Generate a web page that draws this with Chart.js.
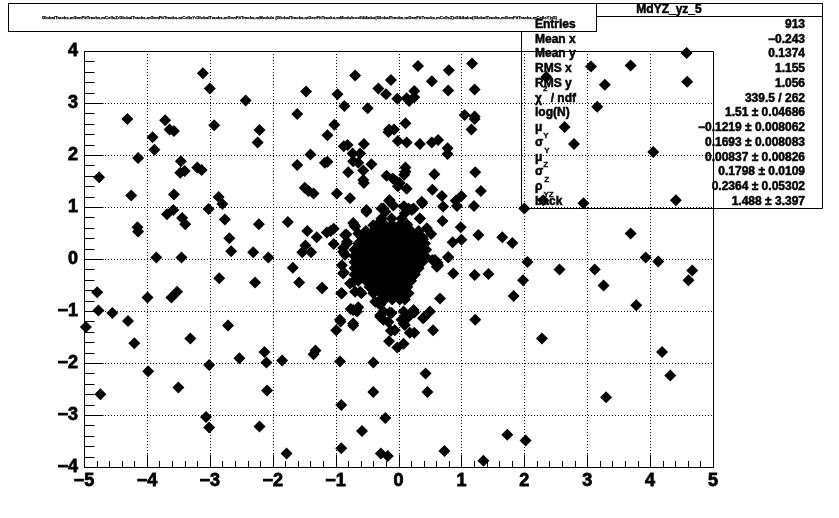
<!DOCTYPE html>
<html>
<head>
<meta charset="utf-8">
<script src="https://cdn.jsdelivr.net/npm/chart.js@4.4.0/dist/chart.umd.min.js"></script>
<style>
html, body { margin: 0; padding: 0; background: #fff; }
</style>
</head>
<body>
<canvas id="c" width="839" height="518"></canvas>
<script>
// scattered hits (x = mCellsY, y = mCellsZ)
const haloY = [
    -4.76, -4.31, -4.25, -4.14, -4.15, -4.14, -3.91, -3.88, -3.85, -3.71, -3.64, -3.57, -3.46, -3.47, -3.40, -3.57,
    -3.68, -3.58, -3.44, -3.39, -3.45, -3.20, -3.13, -3.11, -3.00, -3.02, -2.93, -2.86, -2.80, -2.76, -2.69, -2.66,
    -2.43, -2.31, -2.24, -2.21, -2.22, -2.07, -1.76, -1.61, -1.61, -1.47, -1.49, -1.43, -1.35, -1.40, -1.45, -1.30,
    -1.48, -1.53, -1.39, -1.68, -1.13, -1.17, -1.13, -1.14, -1.08, -1.03, -1.02, -0.97, -0.98, -1.03, -0.86, -0.69,
    -0.87, -0.81, -0.73, -0.61, -0.72, -0.64, -0.80, -0.55, -0.56, -0.56, -0.55, -0.43, -0.49, -0.77, -0.51, -0.70,
    -0.64, -0.83, -0.82, -0.88, -0.32, -0.20, -0.12, -0.02, 0.13, 0.17, 0.25, 0.25, 0.31, 0.53, 0.80, 0.79,
    1.17, 1.21, 1.05, 1.21, 1.21, 1.16, 0.11, -0.16, -0.15, -0.07, -0.01, 0.13, 0.34, 0.53, 0.63, 0.78,
    0.78, 0.11, 0.11, 0.09, -0.19, -0.09, -0.03, -0.01, 0.02, 0.13, 0.57, 1.22, 0.54, 0.69, 1.31, 1.00,
    0.91, 0.93, 0.71, 1.20, 0.38, -0.15, -0.08, 0.09, 0.24, 0.10, -0.27, -0.21, -0.27, 0.34, 0.70, 0.52,
    0.99, 0.86, 1.00, 1.27, 1.65, 1.81, 0.39, 0.79, 0.62, 0.54,
    -4.79, -4.77, -4.55, -4.97, -4.30, -4.20, -3.99, -3.98, -4.74, -3.61, -3.52, -3.50, -3.31, -2.85, -2.71, -3.01,
    -3.06, -3.01, -2.53, -2.28, -2.13, -2.10, -2.09, -2.21, -1.85, -1.78, -1.58, -1.21, -1.35, -1.32, -0.99, -0.92,
    -0.93, -0.91, -0.91, -0.91, -0.76, -0.64, -0.72, -0.59, -0.69, -0.77, -0.87, -0.40, -0.40, -0.58, -0.21, -0.28,
    -0.17, -0.32, -0.29, -0.24, -0.14, -0.15, -0.12, -0.06, -0.02, 0.08, 0.08, 0.18, 0.25, 0.25, 0.41, 0.55,
    0.66, 0.43, 0.46, 0.73, 1.35, 1.73, 1.22, 0.87, 1.21, 1.43, 1.83, 0.61,
    2.00, 2.94, 4.41, 3.69, 2.05, 2.56, 3.12, 3.93, 4.13, 1.98, 3.26, 3.78, 4.67, 4.61, 2.28, 4.19,
    4.32, 3.30, 2.02, 4.58, 3.06, 3.69, 2.35, 3.28, 4.59, 3.16, 2.64, 2.79, 4.05, 2.30
];
const haloZ = [
    1.57, 2.69, 1.22, 1.94, 0.61, 0.53, 2.34, 2.10, 0.03, 2.67, 2.49, 2.46, 1.88, 1.66, 1.69, 1.24,
    0.86, 0.94, 0.79, 0.67, 0.03, 1.76, 1.71, 3.57, 3.28, 0.96, 2.57, 1.19, 1.06, 0.76, 0.40, 0.15,
    3.05, 0.13, 2.24, 2.48, 0.67, 0.03, 0.71, 2.79, 1.81, 3.22, 1.37, 1.31, 1.26, 2.01, 0.54, 0.42,
    0.26, 0.13, 0.13, -0.17, 2.38, 1.85, 1.87, 0.51, 0.54, 0.58, 2.58, 3.17, 1.26, 0.29, 2.94, 3.53,
    2.17, 2.19, 2.03, 2.03, 1.88, 1.85, 1.67, 2.21, 1.70, 1.52, 1.46, 1.82, 2.90, 1.17, 0.91, 0.65,
    0.49, 0.47, 0.30, 0.14, 3.28, 3.17, 3.44, 3.08, 3.09, 3.04, 3.11, 3.23, 3.71, 3.42, 3.63, 3.24,
    3.76, 3.26, 2.77, 2.74, 2.69, 2.49, 2.61, 2.44, 2.49, 2.49, 2.27, 2.24, 2.21, 2.24, 2.29, 2.13,
    2.02, 1.76, 1.68, 1.62, 1.60, 1.55, 1.49, 1.40, 1.46, 1.35, 1.63, 1.67, 1.33, 1.21, 1.31, 1.21,
    1.12, 1.02, 1.01, 1.02, 1.07, 1.12, 1.03, 1.01, 0.97, 0.88, 0.97, 0.91, 0.78, 0.78, 0.73, 0.48,
    0.61, 0.32, 0.37, 0.46, 0.42, 0.31, 0.38, 0.03, -0.07, -0.02,
    -0.64, -0.99, -1.04, -1.31, -1.19, -1.62, -0.74, -2.16, -2.60, -0.74, -0.63, -2.47, -1.53, -0.37, -1.28, -2.04,
    -3.04, -3.24, -1.91, -0.45, -1.79, -1.99, -2.53, -3.22, -1.95, -3.74, -0.45, -0.56, -1.83, -1.76, -1.37, -1.20,
    -1.97, -2.81, -3.64, -0.66, -0.96, -0.93, -1.28, -0.66, -0.63, -0.47, -0.26, -1.99, -2.56, -3.31, -3.06, -3.74,
    -3.79, -0.85, -1.11, -1.17, -1.03, -1.58, -1.38, -1.37, -1.70, -1.63, -1.24, -1.42, -1.42, -1.03, -1.12, -1.37,
    -0.76, -2.20, -2.56, -3.69, -3.88, -3.38, -1.17, -0.28, -0.31, -0.29, -0.71, -0.15,
    0.97, 1.07, 1.13, 0.49, -0.06, -0.20, -0.20, 0.03, -0.05, -0.41, -0.51, -0.89, -0.22, -0.41, -1.53, -1.79,
    -2.24, -2.66, -3.49, 3.96, 3.70, 3.72, 3.50, 3.35, 3.41, 2.93, 2.54, 2.21, 2.06, 1.13
];

// dense core around the origin, read row by row off the solid blob
const coreY = [
    -0.34, -0.22, -0.10, 0.02, 0.14,
    -0.52, -0.40, -0.28, -0.16, -0.04, 0.08, 0.20, 0.32,
    -0.58, -0.46, -0.34, -0.22, -0.10, 0.02, 0.14, 0.26, 0.38,
    -0.64, -0.52, -0.40, -0.28, -0.16, -0.04, 0.08, 0.20, 0.32, 0.42,
    -0.70, -0.58, -0.46, -0.34, -0.22, -0.10, 0.02, 0.14, 0.26, 0.38, 0.44,
    -0.70, -0.64, -0.52, -0.40, -0.28, -0.16, -0.04, 0.08, 0.20, 0.32, 0.42,
    -0.70, -0.58, -0.46, -0.34, -0.22, -0.10, 0.02, 0.14, 0.26, 0.38,
    -0.70, -0.64, -0.52, -0.40, -0.28, -0.16, -0.04, 0.08, 0.20, 0.32,
    -0.70, -0.58, -0.46, -0.34, -0.22, -0.10, 0.02, 0.14, 0.26,
    -0.64, -0.52, -0.40, -0.28, -0.16, -0.04, 0.08, 0.20,
    -0.46, -0.34, -0.22, -0.10, 0.02, 0.14,
    -0.40, -0.28, -0.16, -0.04, 0.08, 0.16,
    -0.22, -0.10, 0.02, 0.10,
    -0.85, -0.82, -0.88, -0.85, -0.90, -0.88, -0.72, -0.69, -0.51, -0.24, -0.14, -0.40, -0.11, 0.05, 0.16, 0.08,
    0.21, 0.34, 0.37, 0.45, 0.58, 0.63, 0.79, -1.22, -0.90, -0.72, -0.66, -0.32, -0.29, -0.24, -0.11, -0.93,
    -0.72, -0.29, -0.16, 0.39, 0.50, -0.72, -0.61, -0.37, 0.08, 0.05, 0.16, 0.24, 0.10
];
const coreZ = [
    0.66, 0.66, 0.66, 0.66, 0.66,
    0.54, 0.54, 0.54, 0.54, 0.54, 0.54, 0.54, 0.54,
    0.42, 0.42, 0.42, 0.42, 0.42, 0.42, 0.42, 0.42, 0.42,
    0.30, 0.30, 0.30, 0.30, 0.30, 0.30, 0.30, 0.30, 0.30, 0.30,
    0.18, 0.18, 0.18, 0.18, 0.18, 0.18, 0.18, 0.18, 0.18, 0.18, 0.18,
    0.06, 0.06, 0.06, 0.06, 0.06, 0.06, 0.06, 0.06, 0.06, 0.06, 0.06,
    -0.06, -0.06, -0.06, -0.06, -0.06, -0.06, -0.06, -0.06, -0.06, -0.06,
    -0.18, -0.18, -0.18, -0.18, -0.18, -0.18, -0.18, -0.18, -0.18, -0.18,
    -0.30, -0.30, -0.30, -0.30, -0.30, -0.30, -0.30, -0.30, -0.30,
    -0.42, -0.42, -0.42, -0.42, -0.42, -0.42, -0.42, -0.42,
    -0.54, -0.54, -0.54, -0.54, -0.54, -0.54,
    -0.66, -0.66, -0.66, -0.66, -0.66, -0.66,
    -0.78, -0.78, -0.78, -0.78,
    0.46, 0.33, 0.21, 0.08, -0.12, -0.28, 0.69, 0.62, 0.94, 0.97, 1.13, 0.65, 0.78, 0.78, 0.97, 1.01,
    0.94, 0.78, 1.10, 0.59, -0.02, -0.12, 0.04, -0.56, -0.66, -0.98, -1.01, -0.82, -0.88, -1.01, -1.04, -1.17,
    -1.24, -1.08, -1.21, -1.14, -1.01, -0.44, -0.63, -0.82, -1.01, -1.17, -1.11, -0.98, -1.27
];

const xTicks = [-5, -4, -3, -2, -1, 0, 1, 2, 3, 4, 5];
const yTicks = [-4, -3, -2, -1, 0, 1, 2, 3, 4];

const histName = 'MdYZ_yz_5';
const titleText = 'GlobalTracks.mGenFitTracks.mCellsZ:GlobalTracks.mGenFitTracks.mCellsY:GlobalTracks.mGenFitTracks.mModule {GlobalTracks.mGenFitTracks.mModule==5&&abs(GlobalTracks.mGenFitTracks.mCellsZ)<5&&abs(GlobalTracks.mGenFitTracks.mCellsY)<5}';
// label: [main, small text, 'sub' | 'sup', rest]
const statLabels = [
    ['Entries'], ['Mean x'], ['Mean y'], ['RMS x'], ['RMS y'],
    ['\u03c7', '2', 'sup', ' / ndf'], ['log(N)'],
    ['\u03bc', 'Y', 'sub'], ['\u03c3', 'Y', 'sub'], ['\u03bc', 'Z', 'sub'], ['\u03c3', 'Z', 'sub'],
    ['\u03c1', 'YZ', 'sub'], ['back']
];
const statValues = [
    '913', '\u22120.243', '0.1374', '1.155', '1.056', '339.5 / 262',
    '1.51 \u00b1 0.04686', '\u22120.1219 \u00b1 0.008062', '0.1693 \u00b1 0.008083',
    '0.00837 \u00b1 0.00826', '0.1798 \u00b1 0.0109', '0.2364 \u00b1 0.05302', '1.488 \u00b1 3.397'
];

const FONT = '"Liberation Sans", Arial, Helvetica, sans-serif';

const toPts = (xs, ys) => xs.map((v, i) => ({ x: v, y: ys[i] }));

// heavy text like ROOT's bold helvetica
function boldText(ctx, s, x, y, w) {
    ctx.lineWidth = w;
    ctx.strokeText(s, x, y);
    ctx.fillText(s, x, y);
}

const rootFrame = {
    id: 'rootFrame',
    beforeDatasetsDraw(chart) {
        const { ctx, chartArea: a, scales: { x, y } } = chart;
        ctx.save();
        ctx.strokeStyle = '#000';
        ctx.lineWidth = 1;
        ctx.setLineDash([1, 2]);
        ctx.beginPath();
        xTicks.forEach(v => {
            if (v <= x.min || v >= x.max) return;
            const px = Math.round(x.getPixelForValue(v)) + 0.5;
            ctx.moveTo(px, a.top);
            ctx.lineTo(px, a.bottom);
        });
        yTicks.forEach(v => {
            if (v <= y.min || v >= y.max) return;
            const py = Math.round(y.getPixelForValue(v)) + 0.5;
            ctx.moveTo(a.left, py);
            ctx.lineTo(a.right, py);
        });
        ctx.stroke();
        ctx.restore();
    },
    afterDatasetsDraw(chart) {
        const { ctx, chartArea: a, scales: { x, y } } = chart;
        const L = Math.round(a.left) + 0.5, R = Math.round(a.right) + 0.5;
        const T = Math.round(a.top) + 0.5, B = Math.round(a.bottom) + 0.5;
        ctx.save();
        ctx.strokeStyle = '#000';
        ctx.lineWidth = 1;
        ctx.beginPath();
        ctx.rect(L, T, R - L, B - T);
        // x ticks, pointing up from the bottom edge
        for (let i = 0; i < xTicks.length; i++) {
            const v = xTicks[i];
            const px = Math.round(x.getPixelForValue(v)) + 0.5;
            ctx.moveTo(px, B); ctx.lineTo(px, B - 13);
            if (i < xTicks.length - 1) {
                for (let k = 1; k < 5; k++) {
                    const m = Math.round(x.getPixelForValue(v + k * (xTicks[i + 1] - v) / 5)) + 0.5;
                    ctx.moveTo(m, B); ctx.lineTo(m, B - 6.5);
                }
            }
        }
        // y ticks, pointing right from the left edge
        for (let i = 0; i < yTicks.length; i++) {
            const v = yTicks[i];
            const py = Math.round(y.getPixelForValue(v)) + 0.5;
            ctx.moveTo(L, py); ctx.lineTo(L + 19, py);
            if (i < yTicks.length - 1) {
                for (let k = 1; k < 5; k++) {
                    const m = Math.round(y.getPixelForValue(v + k * (yTicks[i + 1] - v) / 5)) + 0.5;
                    ctx.moveTo(L, m); ctx.lineTo(L + 10, m);
                }
            }
        }
        ctx.stroke();
        ctx.restore();
    },
    afterDraw(chart) {
        const ctx = chart.ctx;
        ctx.save();
        ctx.strokeStyle = '#000';
        ctx.fillStyle = '#000';
        ctx.textBaseline = 'middle';

        // title box, white fill, hides the top-left corner of the stats box
        ctx.lineWidth = 1;
        ctx.fillStyle = '#fff';
        ctx.fillRect(8.5, 3.5, 588, 28);
        ctx.strokeRect(8.5, 3.5, 588, 28);
        ctx.fillStyle = '#000';
        ctx.font = 'bold 10px ' + FONT;
        const w10 = ctx.measureText(titleText).width;
        ctx.font = 'bold ' + (10 * 518 / w10).toFixed(2) + 'px ' + FONT;
        ctx.textAlign = 'left';
        boldText(ctx, titleText, 42, 17.5, 0.25);

        // stats box outline (no fill), only the visible parts
        ctx.lineWidth = 1;
        ctx.beginPath();
        ctx.moveTo(596.5, 3.5); ctx.lineTo(822.5, 3.5);
        ctx.lineTo(822.5, 208.5); ctx.lineTo(521.5, 208.5);
        ctx.lineTo(521.5, 31.5);
        ctx.moveTo(596.5, 16.5); ctx.lineTo(822.5, 16.5);
        ctx.stroke();

        ctx.font = 'bold 12px ' + FONT;
        ctx.textAlign = 'center';
        boldText(ctx, histName, 669, 10, 0.5);
        statLabels.forEach((lab, i) => {
            const yy = 24.5 + i * 14.75;
            ctx.font = 'bold 12px ' + FONT;
            ctx.textAlign = 'left';
            boldText(ctx, lab[0], 535, yy, 0.5);
            if (lab.length > 1) {
                let xx = 535 + ctx.measureText(lab[0]).width + 1;
                ctx.font = 'bold 8px ' + FONT;
                boldText(ctx, lab[1], xx, lab[2] === 'sup' ? yy - 9 : yy + 8, 0.3);
                xx += ctx.measureText(lab[1]).width;
                if (lab[3]) {
                    ctx.font = 'bold 12px ' + FONT;
                    boldText(ctx, lab[3], xx, yy, 0.5);
                }
            }
            ctx.font = 'bold 12px ' + FONT;
            ctx.textAlign = 'right';
            boldText(ctx, statValues[i], 805, yy, 0.5);
        });
        ctx.restore();
    }
};

const pointStyle = {
    pointStyle: 'rectRot',
    pointRadius: 6,
    pointHoverRadius: 6,
    backgroundColor: '#000',
    borderColor: '#000',
    borderWidth: 0,
    clip: false
};

const tickFont = { family: FONT, size: 18, weight: 'bold' };

new Chart(document.getElementById('c'), {
    type: 'scatter',
    data: {
        datasets: [
            Object.assign({ label: 'halo', data: toPts(haloY, haloZ) }, pointStyle),
            Object.assign({ label: 'core', data: toPts(coreY, coreZ) }, pointStyle)
        ]
    },
    options: {
        responsive: false,
        animation: false,
        events: [],
        layout: { padding: { left: 0, right: 126, top: 51, bottom: 0 } },
        plugins: {
            legend: { display: false },
            title: { display: false },
            tooltip: { enabled: false }
        },
        scales: {
            x: {
                type: 'linear',
                min: -5, max: 5,
                grid: { display: false, drawTicks: false },
                border: { display: false },
                ticks: {
                    stepSize: 1,
                    padding: 3,
                    color: '#000',
                    textStrokeColor: '#000',
                    textStrokeWidth: 0.8,
                    font: tickFont,
                    callback: v => String(v).replace('-', '\u2212')
                },
                afterFit: s => { s.height = 51; }
            },
            y: {
                type: 'linear',
                min: -4, max: 4,
                grid: { display: false, drawTicks: false },
                border: { display: false },
                ticks: {
                    stepSize: 1,
                    padding: 6,
                    color: '#000',
                    textStrokeColor: '#000',
                    textStrokeWidth: 0.8,
                    font: tickFont,
                    callback: v => String(v).replace('-', '\u2212')
                },
                afterFit: s => { s.width = 84; }
            }
        }
    },
    plugins: [rootFrame]
});
</script>
</body>
</html>
